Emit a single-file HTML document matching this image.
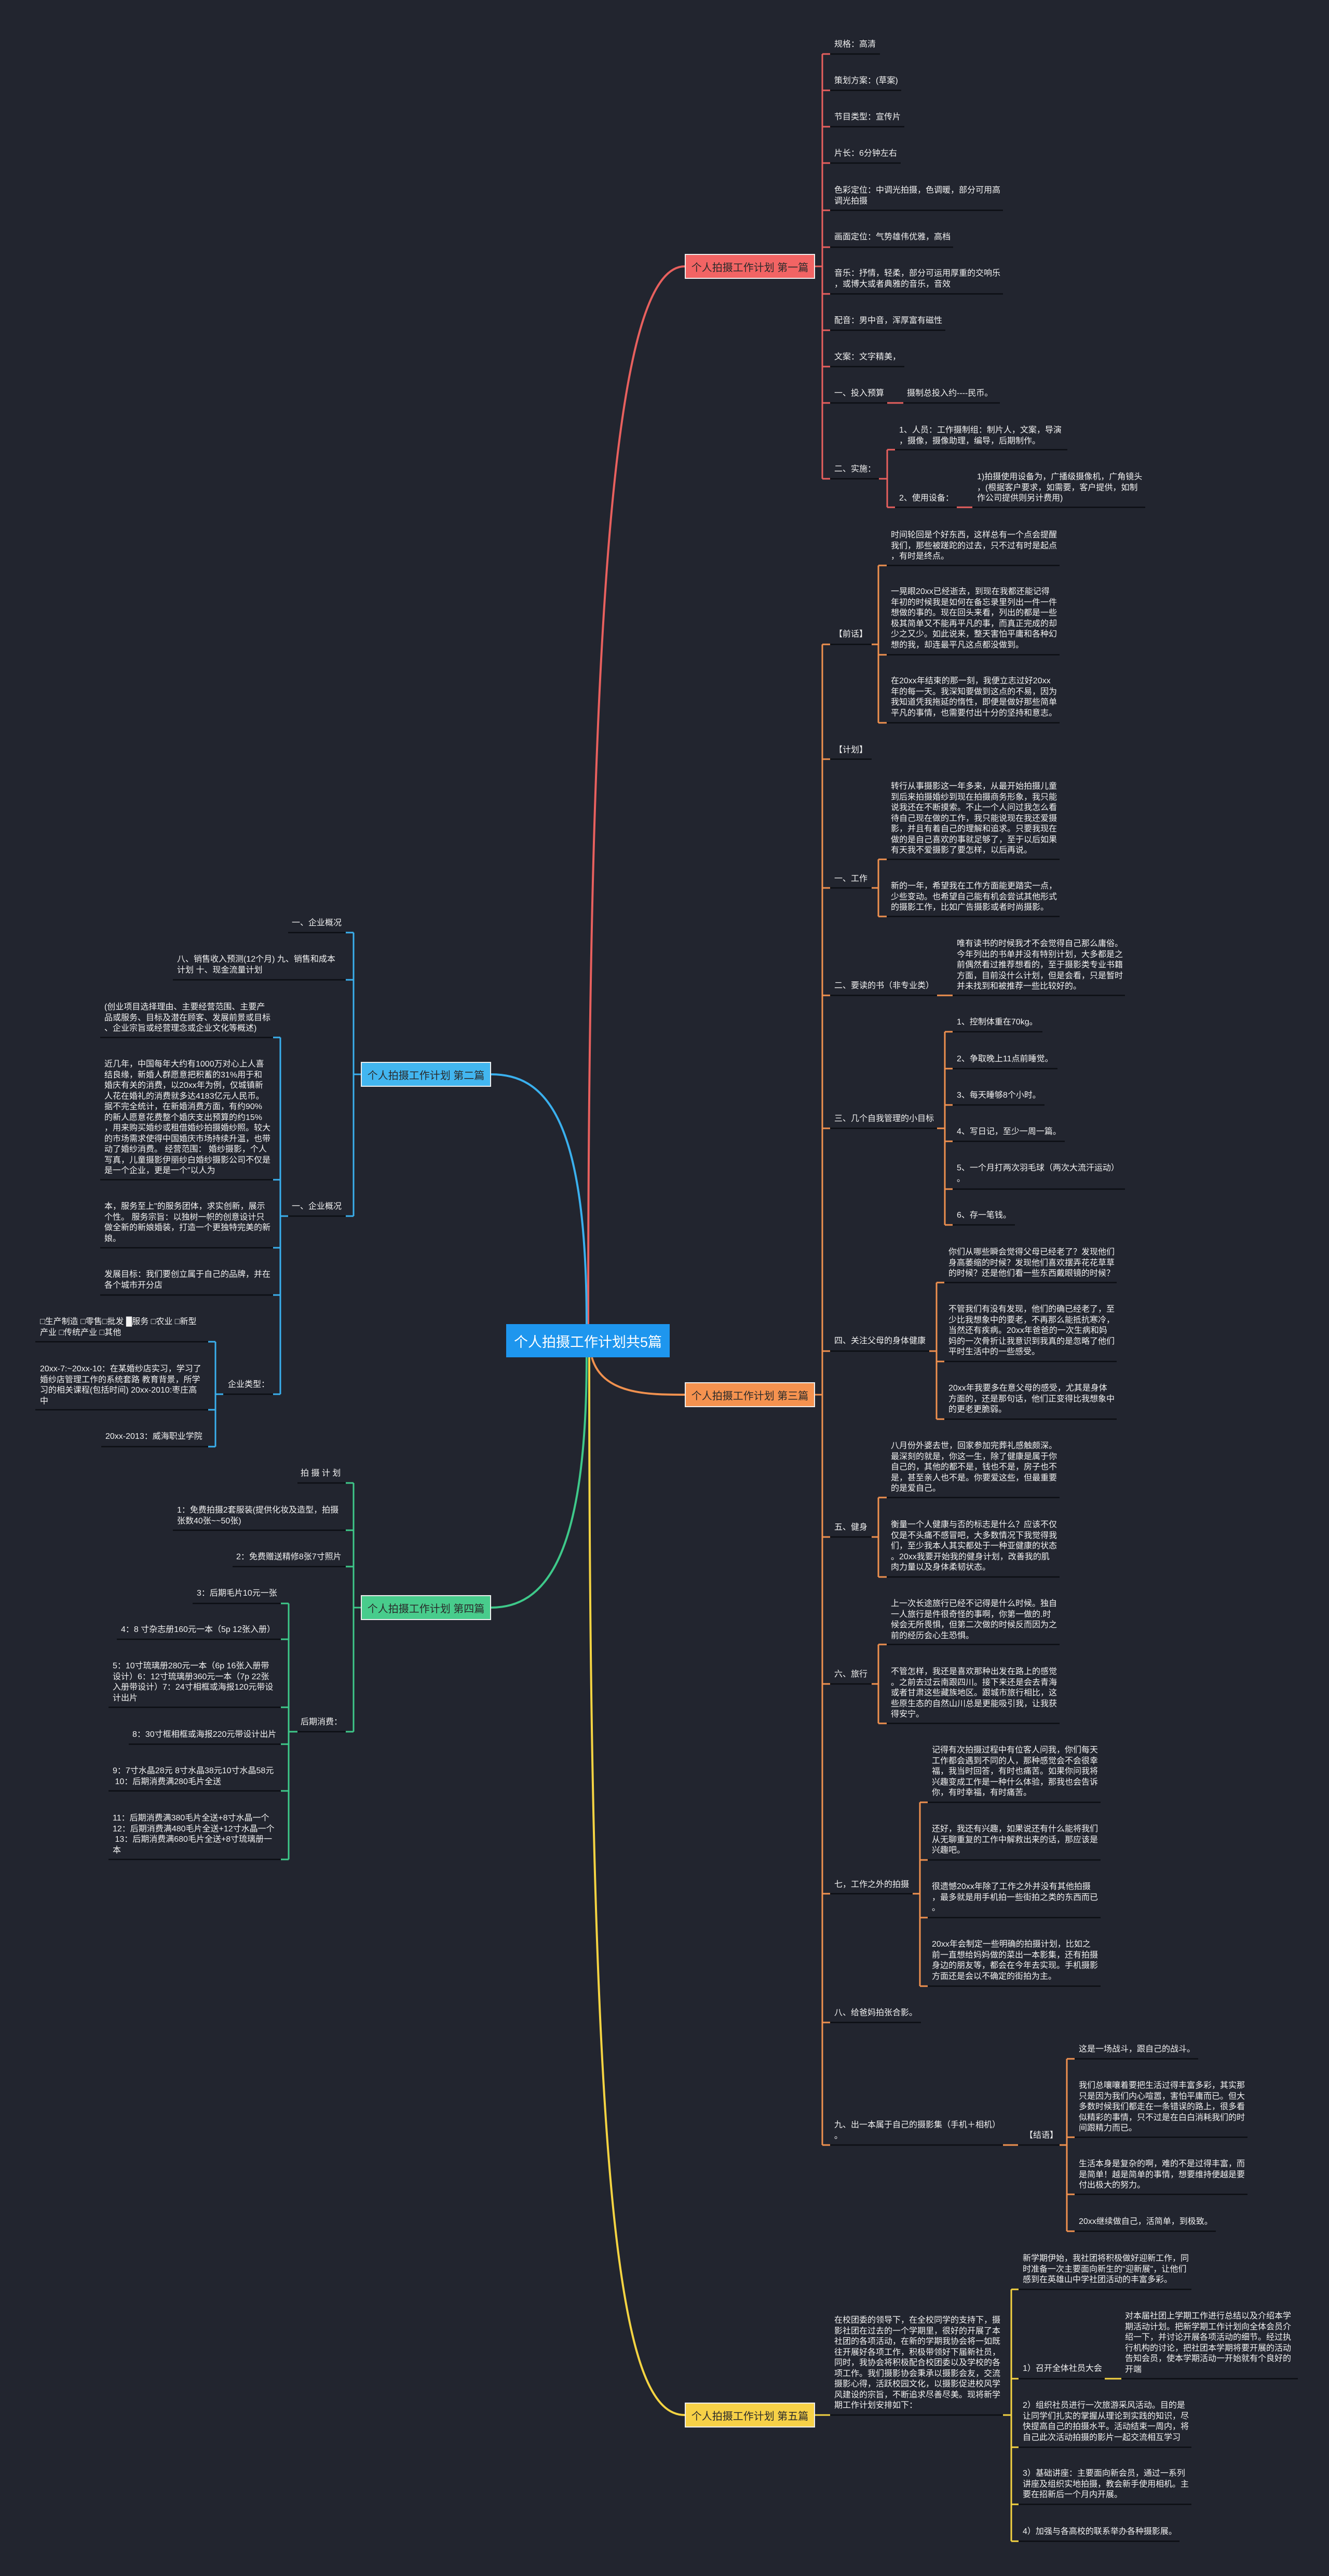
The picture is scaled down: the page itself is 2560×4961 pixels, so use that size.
<!DOCTYPE html>
<html><head><meta charset="utf-8">
<style>
html,body{margin:0;padding:0;}
body{width:2560px;height:4961px;background:#22252f;position:relative;overflow:hidden;font-family:"Liberation Sans","Noto Sans CJK SC",sans-serif;}
.t{position:absolute;font-size:16px;line-height:20.5px;color:#f2f2f2;white-space:nowrap;}
.b{position:absolute;box-sizing:border-box;border:2px solid #eeeeee;font-size:20px;color:#2a2a2a;display:flex;align-items:center;justify-content:center;white-space:nowrap;}
svg{position:absolute;left:0;top:0;}
</style></head><body>
<svg width="2560" height="4961" viewBox="0 0 2560 4961">
<g fill="none" stroke-width="4">
<path d="M1133,2550 C1133,1000 1200,513 1319,513" stroke="#e8605e"/>
<path d="M1130,2550 C1130,2150 1050,2069 946,2069" stroke="#3ab0ee"/>
<path d="M1140,2614 C1160,2686 1250,2686 1319,2686" stroke="#f0914f"/>
<path d="M1130,2614 C1130,3000 1050,3096 946,3096" stroke="#3ec98a"/>
<path d="M1135,2614 C1135,4300 1200,4651 1319,4651" stroke="#f5d442"/>
</g>
<!-- Branch 1 red -->
<g stroke="#e8605e" stroke-width="3" fill="none">
<path d="M1570,513H1584M1584,104V922"/>
<path d="M1584,104H1599M1584,174H1599M1584,244H1599M1584,314H1599M1584,405H1599M1584,476H1599M1584,566H1599M1584,636H1599M1584,706H1599M1584,776H1599M1584,922H1599"/>
<path d="M1709,776H1740M1693,922H1709M1709,866V977M1709,866H1724M1709,977H1724M1843,977H1873"/>
</g>
<g stroke="#0c0e13" stroke-width="2.5">
<path d="M1599,104H1695M1599,174H1736M1599,244H1742M1599,314H1735M1599,405H1932M1599,476H1836M1599,566H1932M1599,636H1821M1599,706H1742M1599,776H1709M1740,776H1926M1599,922H1693M1724,866H2056M1724,977H1843M1873,977H2206"/>
</g>
<!-- Branch 3 orange -->
<g stroke="#f0914f" stroke-width="3" fill="none">
<path d="M1570,2686H1584M1584,1241V4131"/>
<path d="M1584,1241H1599M1584,1462H1599M1584,1710H1599M1584,1917H1599M1584,2173H1599M1584,2602H1599M1584,2960H1599M1584,3243H1599M1584,3647H1599M1584,3895H1599M1584,4131H1599"/>
<path d="M1679,1241H1692M1692,1089V1392M1692,1089H1708M1692,1261H1708M1692,1392H1708"/>
<path d="M1679,1710H1692M1692,1655V1765M1692,1655H1708M1692,1765H1708"/>
<path d="M1805,1917H1835"/>
<path d="M1805,2173H1820M1820,1987V2359M1820,1987H1835M1820,2058H1835M1820,2128H1835M1820,2198H1835M1820,2290H1835M1820,2359H1835"/>
<path d="M1790,2602H1804M1804,2470V2733M1804,2470H1819M1804,2622H1819M1804,2733H1819"/>
<path d="M1679,2960H1692M1692,2884V3037M1692,2884H1708M1692,3037H1708"/>
<path d="M1679,3243H1692M1692,3167V3319M1692,3167H1708M1692,3319H1708"/>
<path d="M1758,3647H1772M1772,3471V3825M1772,3471H1787M1772,3582H1787M1772,3693H1787M1772,3825H1787"/>
<path d="M1932,4131H1961M2041,4131H2055M2055,3965V4297M2055,3965H2070M2055,4116H2070M2055,4226H2070M2055,4297H2070"/>
</g>
<g stroke="#0c0e13" stroke-width="2.5">
<path d="M1599,1241H1679M1708,1089H2041M1708,1261H2041M1708,1392H2041M1599,1462H1679M1599,1710H1679M1708,1655H2041M1708,1765H2041"/>
<path d="M1599,1917H1805M1835,1917H2167M1599,2173H1805M1835,1987H2008M1835,2058H2037M1835,2128H2012M1835,2198H2051M1835,2290H2167M1835,2359H1955"/>
<path d="M1599,2602H1790M1819,2470H2151M1819,2622H2151M1819,2733H2151"/>
<path d="M1599,2960H1679M1708,2884H2041M1708,3037H2041M1599,3243H1679M1708,3167H2041M1708,3319H2041"/>
<path d="M1599,3647H1758M1787,3471H2120M1787,3582H2120M1787,3693H2120M1787,3825H2120M1599,3895H1774"/>
<path d="M1599,4131H1932M1961,4131H2041M2070,3965H2308M2070,4116H2403M2070,4226H2403M2070,4297H2342"/>
</g>
<!-- Branch 5 yellow -->
<g stroke="#f5d442" stroke-width="3" fill="none">
<path d="M1570,4651H1599M1932,4651H1948M1948,4409V4894M1948,4409H1962M1948,4581H1962M1948,4713H1962M1948,4823H1962M1948,4894H1962M2128,4581H2160"/>
</g>
<g stroke="#0c0e13" stroke-width="2.5">
<path d="M1599,4651H1932M1962,4409H2295M1962,4581H2128M2160,4581H2500M1962,4713H2295M1962,4823H2295M1962,4894H2272"/>
</g>
<!-- Branch 2 blue -->
<g stroke="#3ab0ee" stroke-width="3" fill="none">
<path d="M695,2069H681M681,1796V2342M666,1796H681M666,1887H681M666,2342H681"/>
<path d="M540,2342H555M540,1998V2685M526,1998H540M526,2272H540M526,2403H540M526,2494H540M526,2685H540"/>
<path d="M415,2685H430M415,2584V2786M401,2584H415M401,2715H415M401,2786H415"/>
</g>
<g stroke="#0c0e13" stroke-width="2.5">
<path d="M555,1796H666M333,1887H666M555,2342H666M193,1998H526M193,2272H526M193,2403H526M193,2494H526M430,2685H526M68,2584H401M68,2715H401M195,2786H401"/>
</g>
<!-- Branch 4 green -->
<g stroke="#3ec98a" stroke-width="3" fill="none">
<path d="M695,3096H681M681,2856V3335M666,2856H681M666,2947H681M666,3017H681M666,3335H681"/>
<path d="M556,3335H573M556,3088V3581M541,3088H556M541,3157H556M541,3288H556M541,3359H556M541,3449H556M541,3581H556"/>
</g>
<g stroke="#0c0e13" stroke-width="2.5">
<path d="M573,2856H666M333,2947H666M448,3017H666M573,3335H666M371,3088H541M225,3157H541M209,3288H541M248,3359H541M209,3449H541M209,3581H541"/>
</g>
</svg>

<!-- Root -->
<div class="b" style="left:975px;top:2550px;width:315px;height:64px;background:#1e96ee;border:none;color:#fff;font-size:27px;">个人拍摄工作计划共5篇</div>
<!-- Branch boxes -->
<div class="b" style="left:1319px;top:489px;width:251px;height:48px;background:#f26464;">个人拍摄工作计划 第一篇</div>
<div class="b" style="left:695px;top:2045px;width:251px;height:48px;background:#42b6f0;">个人拍摄工作计划 第二篇</div>
<div class="b" style="left:1319px;top:2662px;width:251px;height:48px;background:#f5924f;">个人拍摄工作计划 第三篇</div>
<div class="b" style="left:695px;top:3072px;width:251px;height:48px;background:#48cc8c;">个人拍摄工作计划 第四篇</div>
<div class="b" style="left:1319px;top:4627px;width:251px;height:48px;background:#f7d147;">个人拍摄工作计划 第五篇</div>

<!-- Branch 1 texts -->
<div class="t" style="left:1607px;top:76px;">规格：高清</div>
<div class="t" style="left:1607px;top:146px;">策划方案：(草案)</div>
<div class="t" style="left:1607px;top:216px;">节目类型：宣传片</div>
<div class="t" style="left:1607px;top:286px;">片长：6分钟左右</div>
<div class="t" style="left:1607px;top:357px;">色彩定位：中调光拍摄，色调暖，部分可用高<br>调光拍摄</div>
<div class="t" style="left:1607px;top:447px;">画面定位：气势雄伟优雅，高档</div>
<div class="t" style="left:1607px;top:517px;">音乐：抒情，轻柔，部分可运用厚重的交响乐<br>，或博大或者典雅的音乐，音效</div>
<div class="t" style="left:1607px;top:608px;">配音：男中音，浑厚富有磁性</div>
<div class="t" style="left:1607px;top:678px;">文案：文字精美，</div>
<div class="t" style="left:1607px;top:748px;">一、投入预算</div>
<div class="t" style="left:1747px;top:748px;">摄制总投入约----民币。</div>
<div class="t" style="left:1607px;top:894px;">二、实施：</div>
<div class="t" style="left:1732px;top:819px;">1、人员：工作摄制组：制片人，文案，导演<br>，摄像，摄像助理，编导，后期制作。</div>
<div class="t" style="left:1732px;top:950px;">2、使用设备：</div>
<div class="t" style="left:1882px;top:909px;">1)拍摄使用设备为，广播级摄像机，广角镜头<br>，(根据客户要求，如需要，客户提供，如制<br>作公司提供则另计费用)</div>

<!-- Branch 3 texts -->
<div class="t" style="left:1607px;top:1212px;">【前话】</div>
<div class="t" style="left:1716px;top:1021px;">时间轮回是个好东西，这样总有一个点会提醒<br>我们，那些被蹉跎的过去，只不过有时是起点<br>，有时是终点。</div>
<div class="t" style="left:1716px;top:1130px;">一晃眼20xx已经逝去，到现在我都还能记得<br>年初的时候我是如何在备忘录里列出一件一件<br>想做的事的。现在回头来看，列出的都是一些<br>极其简单又不能再平凡的事，而真正完成的却<br>少之又少。如此说来，整天害怕平庸和各种幻<br>想的我，却连最平凡这点都没做到。</div>
<div class="t" style="left:1716px;top:1302px;">在20xx年结束的那一刻，我便立志过好20xx<br>年的每一天。我深知要做到这点的不易，因为<br>我知道凭我拖延的惰性，即便是做好那些简单<br>平凡的事情，也需要付出十分的坚持和意志。</div>
<div class="t" style="left:1607px;top:1435px;">【计划】</div>
<div class="t" style="left:1607px;top:1683px;">一、工作</div>
<div class="t" style="left:1716px;top:1505px;">转行从事摄影这一年多来，从最开始拍摄儿童<br>到后来拍摄婚纱到现在拍摄商务形象，我只能<br>说我还在不断摸索。不止一个人问过我怎么看<br>待自己现在做的工作，我只能说现在我还爱摄<br>影，并且有着自己的理解和追求。只要我现在<br>做的是自己喜欢的事就足够了，至于以后如果<br>有天我不爱摄影了要怎样，以后再说。</div>
<div class="t" style="left:1716px;top:1697px;">新的一年，希望我在工作方面能更踏实一点，<br>少些变动。也希望自己能有机会尝试其他形式<br>的摄影工作，比如广告摄影或者时尚摄影。</div>
<div class="t" style="left:1607px;top:1889px;">二、要读的书（非专业类）</div>
<div class="t" style="left:1843px;top:1808px;">唯有读书的时候我才不会觉得自己那么庸俗。<br>今年列出的书单并没有特别计划，大多都是之<br>前偶然看过推荐想看的，至于摄影类专业书籍<br>方面，目前没什么计划，但是会看，只是暂时<br>并未找到和被推荐一些比较好的。</div>
<div class="t" style="left:1607px;top:2145px;">三、几个自我管理的小目标</div>
<div class="t" style="left:1843px;top:1959px;">1、控制体重在70kg。</div>
<div class="t" style="left:1843px;top:2030px;">2、争取晚上11点前睡觉。</div>
<div class="t" style="left:1843px;top:2100px;">3、每天睡够8个小时。</div>
<div class="t" style="left:1843px;top:2170px;">4、写日记，至少一周一篇。</div>
<div class="t" style="left:1843px;top:2240px;">5、一个月打两次羽毛球（两次大流汗运动）<br>。</div>
<div class="t" style="left:1843px;top:2331px;">6、存一笔钱。</div>
<div class="t" style="left:1607px;top:2573px;">四、关注父母的身体健康</div>
<div class="t" style="left:1827px;top:2402px;">你们从哪些瞬会觉得父母已经老了？发现他们<br>身高萎缩的时候？发现他们喜欢摆弄花花草草<br>的时候？还是他们看一些东西戴眼镜的时候？</div>
<div class="t" style="left:1827px;top:2512px;">不管我们有没有发现，他们的确已经老了，至<br>少比我想象中的要老，不再那么能抵抗寒冷，<br>当然还有疾病。20xx年爸爸的一次生病和妈<br>妈的一次骨折让我意识到我真的是忽略了他们<br>平时生活中的一些感受。</div>
<div class="t" style="left:1827px;top:2664px;">20xx年我要多在意父母的感受，尤其是身体<br>方面的，还是那句话，他们正变得比我想象中<br>的更老更脆弱。</div>
<div class="t" style="left:1607px;top:2932px;">五、健身</div>
<div class="t" style="left:1716px;top:2775px;">八月份外婆去世，回家参加完葬礼感触颇深。<br>最深刻的就是，你这一生，除了健康是属于你<br>自己的，其他的都不是，钱也不是，房子也不<br>是，甚至亲人也不是。你要爱这些，但最重要<br>的是爱自己。</div>
<div class="t" style="left:1716px;top:2927px;">衡量一个人健康与否的标志是什么？应该不仅<br>仅是不头痛不感冒吧，大多数情况下我觉得我<br>们，至少我本人其实都处于一种亚健康的状态<br>。20xx我要开始我的健身计划，改善我的肌<br>肉力量以及身体柔韧状态。</div>
<div class="t" style="left:1607px;top:3215px;">六、旅行</div>
<div class="t" style="left:1716px;top:3079px;">上一次长途旅行已经不记得是什么时候。独自<br>一人旅行是件很奇怪的事啊，你第一做的.时<br>候会无所畏惧，但第二次做的时候反而因为之<br>前的经历会心生恐惧。</div>
<div class="t" style="left:1716px;top:3210px;">不管怎样，我还是喜欢那种出发在路上的感觉<br>。之前去过云南跟四川。接下来还是会去青海<br>或者甘肃这些藏族地区。跟城市旅行相比，这<br>些原生态的自然山川总是更能吸引我，让我获<br>得安宁。</div>
<div class="t" style="left:1607px;top:3620px;">七，工作之外的拍摄</div>
<div class="t" style="left:1795px;top:3361px;">记得有次拍摄过程中有位客人问我，你们每天<br>工作都会遇到不同的人，那种感觉会不会很幸<br>福，我当时回答，有时也痛苦。如果你问我将<br>兴趣变成工作是一种什么体验，那我也会告诉<br>你，有时幸福，有时痛苦。</div>
<div class="t" style="left:1795px;top:3513px;">还好，我还有兴趣，如果说还有什么能将我们<br>从无聊重复的工作中解救出来的话，那应该是<br>兴趣吧。</div>
<div class="t" style="left:1795px;top:3624px;">很遗憾20xx年除了工作之外并没有其他拍摄<br>，最多就是用手机拍一些街拍之类的东西而已<br>。</div>
<div class="t" style="left:1795px;top:3735px;">20xx年会制定一些明确的拍摄计划，比如之<br>前一直想给妈妈做的菜出一本影集，还有拍摄<br>身边的朋友等，都会在今年去实现。手机摄影<br>方面还是会以不确定的街拍为主。</div>
<div class="t" style="left:1607px;top:3867px;">八、给爸妈拍张合影。</div>
<div class="t" style="left:1607px;top:4083px;">九、出一本属于自己的摄影集（手机＋相机）<br>。</div>
<div class="t" style="left:1974px;top:4103px;">【结语】</div>
<div class="t" style="left:2078px;top:3937px;">这是一场战斗，跟自己的战斗。</div>
<div class="t" style="left:2078px;top:4007px;">我们总嚷嚷着要把生活过得丰富多彩，其实那<br>只是因为我们内心喧嚣，害怕平庸而已。但大<br>多数时候我们都走在一条错误的路上，很多看<br>似精彩的事情，只不过是在白白消耗我们的时<br>间跟精力而已。</div>
<div class="t" style="left:2078px;top:4158px;">生活本身是复杂的啊，难的不是过得丰富，而<br>是简单！越是简单的事情，想要维持便越是要<br>付出极大的努力。</div>
<div class="t" style="left:2078px;top:4269px;">20xx继续做自己，活简单，到极致。</div>

<!-- Branch 5 texts -->
<div class="t" style="left:1607px;top:4459px;">在校团委的领导下，在全校同学的支持下，摄<br>影社团在过去的一个学期里，很好的开展了本<br>社团的各项活动，在新的学期我协会将一如既<br>往开展好各项工作，积极带领好下届新社员，<br>同时，我协会将积极配合校团委以及学校的各<br>项工作。我们摄影协会秉承以摄影会友，交流<br>摄影心得，活跃校园文化，以摄影促进校风学<br>风建设的宗旨，不断追求尽善尽美。现将新学<br>期工作计划安排如下：</div>
<div class="t" style="left:1970px;top:4340px;">新学期伊始，我社团将积极做好迎新工作，同<br>时准备一次主要面向新生的"迎新展"，让他们<br>感到在英雄山中学社团活动的丰富多彩。</div>
<div class="t" style="left:1970px;top:4552px;">1）召开全体社员大会</div>
<div class="t" style="left:2167px;top:4451px;">对本届社团上学期工作进行总结以及介绍本学<br>期活动计划。把新学期工作计划向全体会员介<br>绍一下，并讨论开展各项活动的细节。经过执<br>行机构的讨论，把社团本学期将要开展的活动<br>告知会员，使本学期活动一开始就有个良好的<br>开端</div>
<div class="t" style="left:1970px;top:4623px;">2）组织社员进行一次旅游采风活动。目的是<br>让同学们扎实的掌握从理论到实践的知识，尽<br>快提高自己的拍摄水平。活动结束一周内，将<br>自己此次活动拍摄的影片一起交流相互学习</div>
<div class="t" style="left:1970px;top:4754px;">3）基础讲座：主要面向新会员，通过一系列<br>讲座及组织实地拍摄，教会新手使用相机。主<br>要在招新后一个月内开展。</div>
<div class="t" style="left:1970px;top:4866px;">4）加强与各高校的联系举办各种摄影展。</div>

<!-- Branch 2 texts -->
<div class="t" style="left:562px;top:1768px;">一、企业概况</div>
<div class="t" style="left:341px;top:1838px;">八、销售收入预测(12个月) 九、销售和成本<br>计划 十、现金流量计划</div>
<div class="t" style="left:562px;top:2314px;">一、企业概况</div>
<div class="t" style="left:201px;top:1930px;">(创业项目选择理由、主要经营范围、主要产<br>品或服务、目标及潜在顾客、发展前景或目标<br>、企业宗旨或经营理念或企业文化等概述)</div>
<div class="t" style="left:201px;top:2040px;">近几年，中国每年大约有1000万对心上人喜<br>结良缘，新婚人群愿意把积蓄的31%用于和<br>婚庆有关的消费，以20xx年为例，仅城镇新<br>人花在婚礼的消费就多达4183亿元人民币。<br>据不完全统计，在新婚消费方面，有约90%<br>的新人愿意花费整个婚庆支出预算的约15%<br>，用来购买婚纱或租借婚纱拍摄婚纱照。较大<br>的市场需求使得中国婚庆市场持续升温，也带<br>动了婚纱消费。 经营范围： 婚纱摄影，个人<br>写真，儿童摄影伊丽纱白婚纱摄影公司不仅是<br>是一个企业，更是一个"以人为</div>
<div class="t" style="left:201px;top:2314px;">本，服务至上"的服务团体，求实创新，展示<br>个性。 服务宗旨：以独树一帜的创意设计只<br>做全新的新娘婚装，打造一个更独特完美的新<br>娘。</div>
<div class="t" style="left:201px;top:2445px;">发展目标：我们要创立属于自己的品牌，并在<br>各个城市开分店</div>
<div class="t" style="left:439px;top:2657px;">企业类型：</div>
<div class="t" style="left:77px;top:2536px;">□生产制造 □零售□批发 █服务 □农业 □新型<br>产业 □传统产业 □其他</div>
<div class="t" style="left:77px;top:2627px;">20xx-7:~20xx-10：在某婚纱店实习，学习了<br>婚纱店管理工作的系统套路 教育背景，所学<br>习的相关课程(包括时间) 20xx-2010:枣庄高<br>中</div>
<div class="t" style="left:203px;top:2757px;">20xx-2013：威海职业学院</div>

<!-- Branch 4 texts -->
<div class="t" style="left:579px;top:2828px;">拍 摄 计 划</div>
<div class="t" style="left:341px;top:2899px;">1：免费拍摄2套服装(提供化妆及造型，拍摄<br>张数40张~~50张)</div>
<div class="t" style="left:455px;top:2989px;">2：免费赠送精修8张7寸照片</div>
<div class="t" style="left:579px;top:3307px;">后期消费：</div>
<div class="t" style="left:379px;top:3059px;">3：后期毛片10元一张</div>
<div class="t" style="left:233px;top:3129px;">4：8 寸杂志册160元一本（5p 12张入册）</div>
<div class="t" style="left:217px;top:3199px;">5：10寸琉璃册280元一本（6p 16张入册带<br>设计）6：12寸琉璃册360元一本（7p 22张<br>入册带设计）7：24寸相框或海报120元带设<br>计出片</div>
<div class="t" style="left:255px;top:3331px;">8：30寸框相框或海报220元带设计出片</div>
<div class="t" style="left:217px;top:3401px;">9：7寸水晶28元 8寸水晶38元10寸水晶58元<br>&nbsp;10：后期消费满280毛片全送</div>
<div class="t" style="left:217px;top:3492px;">11：后期消费满380毛片全送+8寸水晶一个<br>12：后期消费满480毛片全送+12寸水晶一个<br>&nbsp;13：后期消费满680毛片全送+8寸琉璃册一<br>本</div>
</body></html>
